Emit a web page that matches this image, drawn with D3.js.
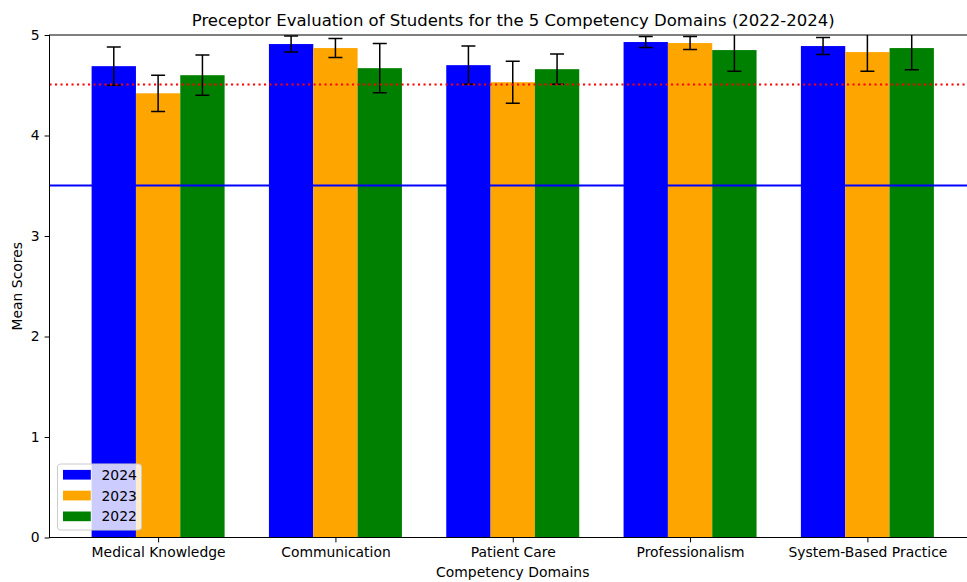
<!DOCTYPE html>
<html>
<head>
<meta charset="utf-8">
<script src="https://cdn.jsdelivr.net/npm/d3@7"></script>
<style>
  body { margin: 0; background: #fff; }
  text { font-family: "DejaVu Sans", sans-serif; fill: #000; }
</style>
</head>
<body>
<svg id="chart" width="967" height="582"></svg>
<script>
// Chart data
const domains = ['Medical Knowledge', 'Communication', 'Patient Care', 'Professionalism', 'System-Based Practice'];
const years = ['2024', '2023', '2022'];
const colors = ['blue', 'orange', 'green'];
const means2024 = [4.69, 4.91, 4.70, 4.93, 4.89];
const means2023 = [4.42, 4.87, 4.53, 4.92, 4.83];
const means2022 = [4.60, 4.67, 4.66, 4.85, 4.87];
const err2024 = [0.19, 0.08, 0.19, 0.055, 0.085];
const err2023 = [0.18, 0.095, 0.21, 0.065, 0.19];
const err2022 = [0.20, 0.245, 0.15, 0.21, 0.215];
const yTicks = [0, 1, 2, 3, 4, 5];
const benchmark = 3.5;
const target = 4.5;

const seriesMeans = [means2024, means2023, means2022];
const seriesErr = [err2024, err2023, err2022];
const barW = 0.25;

const svg = d3.select('#chart');
const plotLeft = 49.5, plotTop = 35, plotBottom = 537.5;
const plotRight = 976; // axes run slightly past the cropped picture edge

const x = d3.scaleLinear().domain([-0.6125, 4.6125]).range([plotLeft, plotRight]);
const y = d3.scaleLinear().domain([0, 5]).range([plotBottom, plotTop]);

svg.append('rect').attr('width', 967).attr('height', 582).attr('fill', '#fff');

svg.append('defs').append('clipPath').attr('id', 'plot-clip')
  .append('rect')
  .attr('x', plotLeft).attr('y', plotTop)
  .attr('width', plotRight - plotLeft).attr('height', plotBottom - plotTop);

const plot = svg.append('g').attr('clip-path', 'url(#plot-clip)');

// Bars
const bars = [];
seriesMeans.forEach((vals, j) => {
  vals.forEach((v, i) => {
    bars.push({ i, j, v, e: seriesErr[j][i], cx: i + (j - 1) * barW });
  });
});

plot.selectAll('.bar')
  .data(bars)
  .join('rect')
  .attr('class', 'bar')
  .attr('x', d => x(d.cx - barW / 2))
  .attr('y', d => y(d.v))
  .attr('width', d => x(d.cx + barW / 2) - x(d.cx - barW / 2))
  .attr('height', d => y(0) - y(d.v))
  .attr('fill', d => colors[d.j]);

// Error bars
const capHalf = 7;
const eb = plot.selectAll('.err')
  .data(bars)
  .join('g')
  .attr('class', 'err')
  .attr('stroke', '#000')
  .attr('stroke-width', 1.5);
eb.append('line')
  .attr('x1', d => x(d.cx)).attr('x2', d => x(d.cx))
  .attr('y1', d => y(d.v - d.e)).attr('y2', d => y(d.v + d.e));
eb.append('line')
  .attr('x1', d => x(d.cx) - capHalf).attr('x2', d => x(d.cx) + capHalf)
  .attr('y1', d => y(d.v + d.e)).attr('y2', d => y(d.v + d.e));
eb.append('line')
  .attr('x1', d => x(d.cx) - capHalf).attr('x2', d => x(d.cx) + capHalf)
  .attr('y1', d => y(d.v - d.e)).attr('y2', d => y(d.v - d.e));

// Reference lines
plot.append('line')
  .attr('x1', plotLeft).attr('x2', plotRight)
  .attr('y1', Math.round(y(benchmark)) - 0.5).attr('y2', Math.round(y(benchmark)) - 0.5)
  .attr('stroke', 'blue').attr('stroke-width', 2);
plot.append('line')
  .attr('x1', plotLeft).attr('x2', plotRight)
  .attr('y1', Math.round(y(target)) - 0.5).attr('y2', Math.round(y(target)) - 0.5)
  .attr('stroke', 'red').attr('stroke-width', 2)
  .attr('stroke-dasharray', '2.1,3.4');

// Spines
svg.append('rect')
  .attr('x', plotLeft).attr('y', plotTop)
  .attr('width', plotRight - plotLeft).attr('height', plotBottom - plotTop)
  .attr('fill', 'none').attr('stroke', '#000').attr('stroke-width', 1);

// Y axis
const yAxis = svg.append('g')
  .attr('transform', `translate(${plotLeft},0)`)
  .call(d3.axisLeft(y).tickValues(yTicks).tickFormat(d3.format('d')).tickSize(4.9).tickPadding(4.9));
yAxis.select('.domain').remove();
yAxis.selectAll('text').attr('font-size', '13.9px').attr('font-family', 'DejaVu Sans');

// X axis
const xAxis = svg.append('g')
  .attr('transform', `translate(0,${plotBottom})`)
  .call(d3.axisBottom(x).tickValues(d3.range(domains.length)).tickFormat(i => domains[i]).tickSize(4.9).tickPadding(4.9));
xAxis.select('.domain').remove();
xAxis.selectAll('text').attr('font-size', '13.9px').attr('font-family', 'DejaVu Sans');

// Labels
svg.append('text')
  .attr('x', (plotLeft + plotRight) / 2 + 0.5).attr('y', 26)
  .attr('text-anchor', 'middle').attr('font-size', '16.5px')
  .text('Preceptor Evaluation of Students for the 5 Competency Domains (2022-2024)');
svg.append('text')
  .attr('x', (plotLeft + plotRight) / 2).attr('y', 577)
  .attr('text-anchor', 'middle').attr('font-size', '13.9px')
  .text('Competency Domains');
svg.append('text')
  .attr('transform', `translate(22,${(plotTop + plotBottom) / 2}) rotate(-90)`)
  .attr('text-anchor', 'middle').attr('font-size', '13.9px')
  .text('Mean Scores');

// Legend
const legend = svg.append('g').attr('transform', 'translate(57.5,464)');
legend.append('rect')
  .attr('width', 84).attr('height', 66).attr('rx', 3)
  .attr('fill', '#fff').attr('fill-opacity', 0.8)
  .attr('stroke', '#ccc').attr('stroke-width', 1);
years.forEach((yr, j) => {
  const row = legend.append('g').attr('transform', `translate(5.5,${10.7 + j * 20.8})`);
  row.append('rect')
    .attr('x', 0).attr('y', -4.8).attr('width', 27.8).attr('height', 9.7)
    .attr('fill', colors[j]);
  row.append('text')
    .attr('x', 38.5).attr('y', 5)
    .attr('font-size', '13.9px')
    .text(yr);
});
</script>
</body>
</html>
